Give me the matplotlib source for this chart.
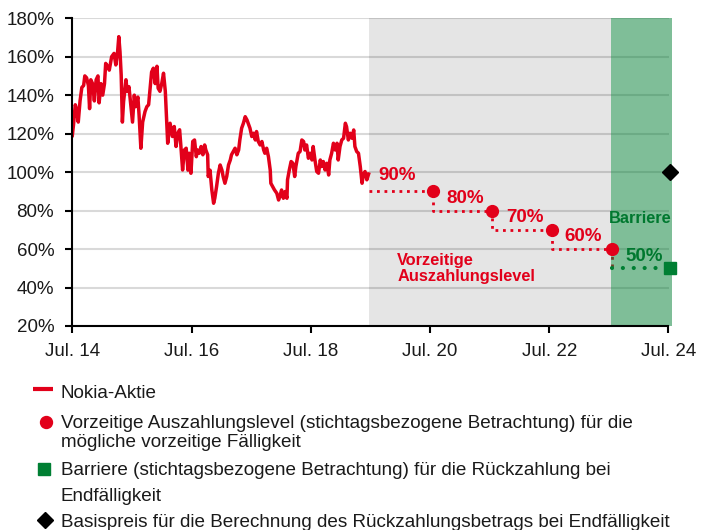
import matplotlib
matplotlib.use("Agg")
import matplotlib.pyplot as plt
from matplotlib.lines import Line2D

plt.rcParams['font.family'] = ['Liberation Sans', 'DejaVu Sans']

RED = '#e2001a'
GREEN = '#007f33'
GREEN_TXT = '#00782f'
TXT = '#1a1a1a'

# ---- data ----
stock_dates = [
    2014.50, 2014.52, 2014.55, 2014.57, 2014.60, 2014.63, 2014.66, 2014.69, 2014.71, 2014.74,
    2014.77, 2014.79, 2014.81, 2014.84, 2014.87, 2014.90, 2014.93, 2014.95, 2014.98, 2015.01,
    2015.04, 2015.06, 2015.09, 2015.12, 2015.16, 2015.20, 2015.23, 2015.26, 2015.28, 2015.30,
    2015.32, 2015.34, 2015.36, 2015.40, 2015.42, 2015.45, 2015.48, 2015.51, 2015.54, 2015.56,
    2015.60, 2015.62, 2015.65, 2015.68, 2015.72, 2015.75, 2015.78, 2015.80, 2015.83, 2015.86,
    2015.89, 2015.92, 2015.94, 2015.97, 2016.00, 2016.03, 2016.06, 2016.08, 2016.10, 2016.14,
    2016.18, 2016.21, 2016.24, 2016.27, 2016.30, 2016.32, 2016.35, 2016.38, 2016.41, 2016.44,
    2016.46, 2016.49, 2016.52, 2016.55, 2016.58, 2016.60, 2016.63, 2016.66, 2016.69, 2016.72,
    2016.74, 2016.77, 2016.78, 2016.81, 2016.84, 2016.87, 2016.89, 2016.92, 2016.95, 2016.98,
    2017.01, 2017.03, 2017.06, 2017.09, 2017.12, 2017.15, 2017.17, 2017.20, 2017.23, 2017.26,
    2017.29, 2017.31, 2017.34, 2017.37, 2017.40, 2017.43, 2017.45, 2017.48, 2017.51, 2017.54,
    2017.57, 2017.59, 2017.62, 2017.65, 2017.68, 2017.71, 2017.73, 2017.76, 2017.79, 2017.82,
    2017.83, 2017.86, 2017.89, 2017.93, 2017.96, 2017.98, 2018.01, 2018.04, 2018.07, 2018.10,
    2018.11, 2018.14, 2018.17, 2018.20, 2018.23, 2018.25, 2018.29, 2018.32, 2018.35, 2018.38,
    2018.40, 2018.43, 2018.46, 2018.49, 2018.52, 2018.54, 2018.57, 2018.60, 2018.63, 2018.66,
    2018.68, 2018.71, 2018.74, 2018.77, 2018.80, 2018.82, 2018.85, 2018.88, 2018.91, 2018.94,
    2018.96, 2018.99, 2019.02, 2019.05, 2019.08, 2019.10, 2019.13, 2019.16, 2019.19, 2019.22,
    2019.24, 2019.27, 2019.30, 2019.33, 2019.36, 2019.38, 2019.41, 2019.44, 2019.47,
]
stock_values = [
    119, 124.5, 135, 133, 126, 137, 144, 145, 150, 149,
    145, 133, 148, 146, 137, 148, 150, 136, 146, 140,
    146, 156.5, 155, 153, 160, 161.7, 155.7, 162.6, 170.4, 162.6,
    150.5, 126, 136.6, 148, 142, 144.4, 135, 126, 140, 134,
    139, 129.7, 112.4, 126, 131.5, 134, 135, 142, 152, 154,
    146, 155, 143.6, 142, 146, 151.4, 142, 128.8, 115, 125.4,
    118.5, 123.7, 113.3, 120.2, 122, 114, 101.1, 111.5, 112.4, 101,
    109.8, 99.4, 115.9, 116.7, 108, 111.5, 109.8, 113.3, 109, 114.1,
    111.5, 109, 97.7, 101, 90.8, 83.8, 86.4, 92.5, 99.4, 103.7,
    101, 97.7, 94.2, 97.7, 103.7, 106.3, 109, 110.7, 112.4, 109,
    111.5, 116.7, 122.8, 125.4, 128.8, 127.1, 125.4, 122.8, 118.5, 120.2,
    116.7, 121.1, 115.9, 114.1, 115.9, 111.5, 109.8, 112.4, 108, 101,
    94.2, 92.5, 90.8, 89, 85.5, 87.3, 90.7, 86.4, 89.9, 86.4,
    96, 101.1, 105.5, 104.6, 97.7, 102.9, 109.8, 110.7, 116.7, 115.9,
    111.5, 114.1, 107.2, 109.8, 106.3, 113.3, 106.3, 100.3, 99.4, 106.3,
    102.9, 105.5, 101.1, 104.6, 98.5, 106.3, 109.8, 115, 111.5, 115,
    106.3, 113.3, 116.7, 117.6, 125.4, 123.6, 116.7, 120.2, 117.6, 121.9,
    113.3, 110.7, 109.8, 102.9, 94.2, 98.5, 100.3, 96, 99,
]

obs_start = 2019.48
call_dates = [2020.55, 2021.54, 2022.55, 2023.55]
call_levels = [90, 80, 70, 60]
call_labels = ['90%', '80%', '70%', '60%']
final_date = 2024.52
barrier_level = 50
strike_level = 100
final_start = 2023.54

x_ticks = [2014.5, 2016.5, 2018.5, 2020.5, 2022.5, 2024.5]
x_ticklabels = ['Jul. 14', 'Jul. 16', 'Jul. 18', 'Jul. 20', 'Jul. 22', 'Jul. 24']
y_ticks = [20, 40, 60, 80, 100, 120, 140, 160, 180]
y_ticklabels = ['20%', '40%', '60%', '80%', '100%', '120%', '140%', '160%', '180%']

legend_labels = [
    'Nokia-Aktie',
    'Vorzeitige Auszahlungslevel (stichtagsbezogene Betrachtung) für die\nmögliche vorzeitige Fälligkeit',
    'Barriere (stichtagsbezogene Betrachtung) für die Rückzahlung bei\nEndfälligkeit',
    'Basispreis für die Berechnung des Rückzahlungsbetrags bei Endfälligkeit',
]

# ---- figure ----
W, H = 712, 530
fig = plt.figure(figsize=(W / 100, H / 100), dpi=100)
ax = fig.add_axes([72.3 / W, 1 - 326 / H, (668.5 - 72.3) / W, (326 - 18.2) / H])
ax.set_xlim(2014.5, 2024.5)
ax.set_ylim(20, 180)

for s in ['top', 'right']:
    ax.spines[s].set_visible(False)
for s in ['left', 'bottom']:
    ax.spines[s].set_linewidth(1.5)
    ax.spines[s].set_color('black')
    ax.spines[s].set_zorder(10)

ax.set_xticks(x_ticks)
ax.set_xticklabels(x_ticklabels)
ax.set_yticks(y_ticks)
ax.set_yticklabels(y_ticklabels)
ax.tick_params(axis='both', direction='out', length=5, width=1.5, labelsize=13.5,
               labelcolor=TXT, color='black')
ax.tick_params(axis='y', pad=8)
ax.tick_params(axis='x', pad=7)

ax.set_axisbelow(True)
ax.yaxis.grid(True, color='#d9d9d9', linewidth=1.5, zorder=0.5)

# shaded observation period
ax.axvspan(obs_start, final_start, color='black', alpha=0.1, lw=0, zorder=1)

# stock
ax.plot(stock_dates, stock_values, color=RED, lw=2.5, zorder=4, solid_joinstyle='round')

# step dotted call levels
step_x = [obs_start] + call_dates
step_y = call_levels + [call_levels[-1]]
ax.step(step_x, step_y, where='post', color=RED, lw=2.0, linestyle=(0, (1, 1.7)), zorder=2)
ax.plot([call_dates[-1], call_dates[-1]], [call_levels[-1], barrier_level],
        color=RED, lw=2.0, linestyle=(0, (1, 1.7)), zorder=2)

ax.axvspan(final_start, 2024.56, color=GREEN, alpha=0.5, lw=0, zorder=3, clip_on=False)

ax.plot(call_dates, call_levels, 'o', color=RED, markersize=8.5, zorder=5, clip_on=False)

ax.plot([call_dates[-1], final_date], [barrier_level, barrier_level], color=GREEN,
        lw=3.0, linestyle=(0, (0.01, 2.6)), dash_capstyle='round', zorder=5, clip_on=False)
ax.plot([final_date], [barrier_level], 's', color=GREEN, markersize=8.8, zorder=6, clip_on=False)
ax.plot([final_date], [strike_level], 'D', color='black', markersize=8, zorder=6, clip_on=False)

# annotations
label_pos = [(2019.95, 98.0), (2021.09, 86.1), (2022.10, 76.2), (2023.07, 66.3)]
for (lx, ly), t in zip(label_pos, call_labels):
    ax.text(lx, ly, t, color=RED, fontsize=13.5, fontweight='bold', ha='center', va='center', zorder=7)
ax.text(2024.09, 55.9, '50%', color=GREEN_TXT, fontsize=13.5, fontweight='bold',
        ha='center', va='center', zorder=7)
ax.text(2024.03, 75.7, 'Barriere', color=GREEN_TXT, fontsize=11.8, fontweight='bold',
        ha='center', va='center', zorder=7)
ax.text(2019.95, 49.8, 'Vorzeitige\nAuszahlungslevel', color=RED, fontsize=11.8,
        fontweight='bold', ha='left', va='center', linespacing=1.1, zorder=7)

# ---- custom legend ----
def fx(px):
    return px / W

def fy(py):
    return 1 - py / H

fig.add_artist(Line2D([fx(33), fx(53)], [fy(389), fy(389)], color=RED, lw=3,
                      solid_capstyle='butt', transform=fig.transFigure))
fig.add_artist(Line2D([fx(45.7)], [fy(421.7)], marker='o', color=RED, markersize=8.6,
                      linestyle='none', transform=fig.transFigure))
fig.add_artist(Line2D([fx(44.3)], [fy(469.3)], marker='s', color=GREEN, markersize=8.6,
                      linestyle='none', transform=fig.transFigure))
fig.add_artist(Line2D([fx(45)], [fy(520)], marker='D', color='black', markersize=7.8,
                      linestyle='none', transform=fig.transFigure))

LFS = 13.55
fig.text(fx(61), fy(398), legend_labels[0], fontsize=LFS, color=TXT, va='baseline')
l2a, l2b = legend_labels[1].split('\n')
fig.text(fx(61), fy(428.3), l2a, fontsize=LFS, color=TXT, va='baseline')
fig.text(fx(61), fy(446.7), l2b, fontsize=LFS, color=TXT, va='baseline')
l3a, l3b = legend_labels[2].split('\n')
fig.text(fx(61), fy(475), l3a, fontsize=LFS, color=TXT, va='baseline')
fig.text(fx(61), fy(500.7), l3b, fontsize=LFS, color=TXT, va='baseline')
fig.text(fx(61), fy(527.3), legend_labels[3], fontsize=LFS, color=TXT, va='baseline')

fig.savefig('out.png', dpi=100)
